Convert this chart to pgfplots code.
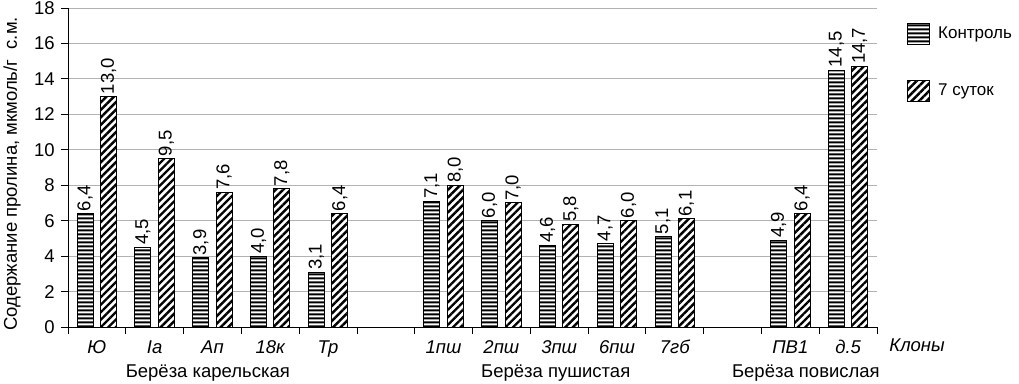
\documentclass[border=0pt]{standalone}
\usepackage{fontspec}
\setmainfont{Liberation Sans}
\usepackage{pgfplots}
\pgfplotsset{compat=1.18}
\usetikzlibrary{patterns.meta}
\newcommand{\ff}{\fontsize{18.5}{22}\selectfont}
\newcommand{\lf}{\fontsize{17}{20}\selectfont}
\pgfdeclarepatternformonly{hl}{\pgfpoint{0pt}{0pt}}{\pgfpoint{200pt}{4pt}}{\pgfpoint{200pt}{4pt}}{%
  \pgfsetlinewidth{2.3pt}%
  \pgfpathmoveto{\pgfpoint{-2pt}{2pt}}\pgfpathlineto{\pgfpoint{202pt}{2pt}}\pgfusepath{stroke}}
\pgfplotsset{
  boxleg/.style={legend image code/.code={\draw[##1,/tikz/.cd] (0pt,-10.5pt) rectangle (22pt,10.5pt);}},
  ctrl/.style={draw=black, line width=1pt, fill=white,
    postaction={pattern=hl, pattern color=black}, boxleg},
  week/.style={draw=black, line width=1pt, fill=white,
    postaction={pattern={Lines[angle=45,distance=5.3pt,line width=2.4pt]}}, boxleg},
}
\begin{document}
\ff
\begin{tikzpicture}
\useasboundingbox (-68pt,-56pt) rectangle (951pt,327pt);
\begin{axis}[
  at={(0pt,0pt)}, anchor=south west,
  scale only axis, width=809pt, height=319pt,
  xmin=-0.5, xmax=13.5, ymin=0, ymax=18,
  ytick={0,2,...,18},
  xtick={-0.5,0.5,...,13.5},
  x tick label as interval,
  xticklabels={Ю,Ia,Ап,18к,Тр,,1пш,2пш,3пш,6пш,7гб,,ПВ1,д.5},
  axis lines*=left,
  axis line style={black, line width=0.8pt},
  tick align=outside,
  major tick length=7pt,
  tick style={black, line width=0.8pt},
  ymajorgrids, grid style={black!30, line width=0.8pt},
  ybar=7.4pt, bar width=16pt,
  /pgf/number format/assume math mode=true,
  tick label style={font=\ff},
  xticklabel style={font=\ff\itshape},
  ylabel={Содержание пролина, мкмоль/г\ \ с.м.},
  ylabel style={font=\ff, at={(axis description cs:-0.0692,0.48)}, anchor=center},
  nodes near coords={\pgfmathprintnumber[fixed,fixed zerofill,precision=1,use comma]{\pgfplotspointmeta}},
  every node near coord/.append style={rotate=90, anchor=west, font=\ff, inner sep=2pt, black},
  legend style={at={(axis description cs:1.037,0.955)}, anchor=north west, draw=none, fill=none,
    font=\lf, row sep=35pt, inner sep=0pt, /tikz/every odd column/.append style={column sep=6pt}},
  legend cell align=left,
  clip=false,
]
\addplot[ctrl] coordinates {(0,6.4) (1,4.5) (2,3.9) (3,4.0) (4,3.1) (6,7.1) (7,6.0) (8,4.6) (9,4.7) (10,5.1) (12,4.9) (13,14.5)};
\addplot[week] coordinates {(0,13.0) (1,9.5) (2,7.6) (3,7.8) (4,6.4) (6,8.0) (7,7.0) (8,5.8) (9,6.0) (10,6.1) (12,6.4) (13,14.7)};
\legend{Контроль, 7 суток}
\node[anchor=base, font=\ff] at (axis cs:1.92,0) [yshift=-50pt] {Берёза карельская};
\node[anchor=base, font=\ff] at (axis cs:7.94,0) [yshift=-50pt] {Берёза пушистая};
\node[anchor=base, font=\ff] at (axis cs:12.27,0) [yshift=-50pt] {Берёза повислая};
\node[anchor=base west, font=\ff\itshape] at (axis cs:13.5,0) [xshift=6pt, yshift=-24pt] {Клоны};
\end{axis}
\end{tikzpicture}
\end{document}
